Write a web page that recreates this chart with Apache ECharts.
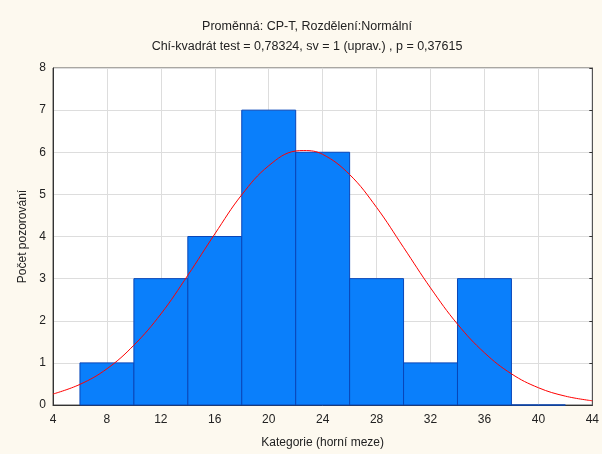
<!DOCTYPE html>
<html>
<head>
<meta charset="utf-8">
<script src="https://cdn.jsdelivr.net/npm/echarts@6/dist/echarts.min.js"></script>
<style>
  html, body { margin: 0; padding: 0; background: #fdf9ef; }
  #chart { width: 602px; height: 454px; }
</style>
</head>
<body>
<div id="chart"></div>
<script>
// Histogram classes (lower and upper bounds) and observed counts
const binStart = [6, 10, 14, 18, 22, 26, 30, 34, 38];
const binEnd   = [10, 14, 18, 22, 26, 30, 34, 38, 42];
const counts   = [1, 3, 4, 7, 6, 3, 1, 3, 0];

// Expected frequencies of the fitted normal curve
const curveX = [4, 6, 8, 10, 12, 14, 16, 18, 20, 22, 22.6, 24, 26, 28, 30, 32, 34, 36, 38, 40, 42, 44];
const curveY = [0.26, 0.49, 0.86, 1.42, 2.16, 3.08, 4.06, 4.99, 5.68, 6.03, 6.04, 5.95, 5.47, 4.69, 3.74, 2.78, 1.92, 1.24, 0.74, 0.41, 0.21, 0.10];

// Axis ticks
const xTicks = [4, 8, 12, 16, 20, 24, 28, 32, 36, 40, 44];
const yTicks = [0, 1, 2, 3, 4, 5, 6, 7, 8];

const titleLine1 = 'Proměnná: CP-T, Rozdělení:Normální';
const titleLine2 = 'Chí-kvadrát test = 0,78324, sv = 1 (uprav.) , p = 0,37615';

const FONT = '"Liberation Sans", Arial, sans-serif';

const barData = binStart.map((s, i) => [s, binEnd[i], counts[i]]);
const curveData = curveX.map((x, i) => [x, curveY[i]]);

const chart = echarts.init(document.getElementById('chart'), null, { renderer: 'canvas', width: 602, height: 454 });

chart.setOption({
  backgroundColor: '#fdf9ef',
  animation: false,
  textStyle: { fontFamily: FONT },
  graphic: [
    { type: 'text', style: { text: titleLine1, x: 307, y: 27, textAlign: 'center', textVerticalAlign: 'middle', font: '12.5px ' + FONT, fill: '#222' } },
    { type: 'text', style: { text: titleLine2, x: 307, y: 47, textAlign: 'center', textVerticalAlign: 'middle', font: '12.5px ' + FONT, fill: '#222' } }
  ],
  grid: {
    left: 53, width: 541, top: 68, height: 342,
    show: true, backgroundColor: '#ffffff', borderColor: '#555555', borderWidth: 1
  },
  xAxis: [{
    type: 'value', min: xTicks[0], max: xTicks[xTicks.length - 1], interval: 4,
    name: 'Kategorie (horní meze)', nameLocation: 'middle', nameGap: 32,
    nameTextStyle: { fontSize: 12, color: '#222', fontFamily: FONT },
    axisLine: { show: true, lineStyle: { color: '#333', width: 1 } },
    axisTick: { show: false },
    axisLabel: { fontSize: 12, color: '#222', fontFamily: FONT, margin: 9 },
    splitLine: { show: true, lineStyle: { color: '#dddddd', width: 1 } }
  }],
  yAxis: [{
    type: 'value', min: yTicks[0], max: yTicks[yTicks.length - 1], interval: 1,
    name: 'Počet pozorování', nameLocation: 'middle', nameGap: 22, nameRotate: 90,
    nameTextStyle: { fontSize: 12, color: '#222', fontFamily: FONT },
    axisLine: { show: true, lineStyle: { color: '#333', width: 1 } },
    axisTick: { show: false },
    axisLabel: { fontSize: 12, color: '#222', fontFamily: FONT, margin: 7 },
    splitLine: { show: true, lineStyle: { color: '#dddddd', width: 1 } }
  }, {
    type: 'value', min: yTicks[0], max: yTicks[yTicks.length - 1], interval: 1,
    position: 'right',
    axisLine: { show: true, lineStyle: { color: '#555', width: 1 } },
    axisTick: { show: true, inside: true, length: 3, lineStyle: { color: '#333' } },
    axisLabel: { show: false },
    splitLine: { show: false }
  }],
  series: [{
    type: 'custom',
    data: barData,
    encode: { x: [0, 1], y: 2 },
    renderItem: function (params, api) {
      const p0 = api.coord([api.value(0), api.value(2)]);
      const p1 = api.coord([api.value(1), 0]);
      return {
        type: 'rect',
        shape: { x: p0[0], y: p0[1], width: p1[0] - p0[0], height: p1[1] - p0[1] },
        style: { fill: '#0a7ffb', stroke: '#0946b8', lineWidth: 1 }
      };
    },
    z: 2
  }, {
    type: 'line',
    data: curveData,
    smooth: 0.4,
    showSymbol: false,
    lineStyle: { color: '#ff0000', width: 1 },
    z: 3
  }]
});
</script>
</body>
</html>
